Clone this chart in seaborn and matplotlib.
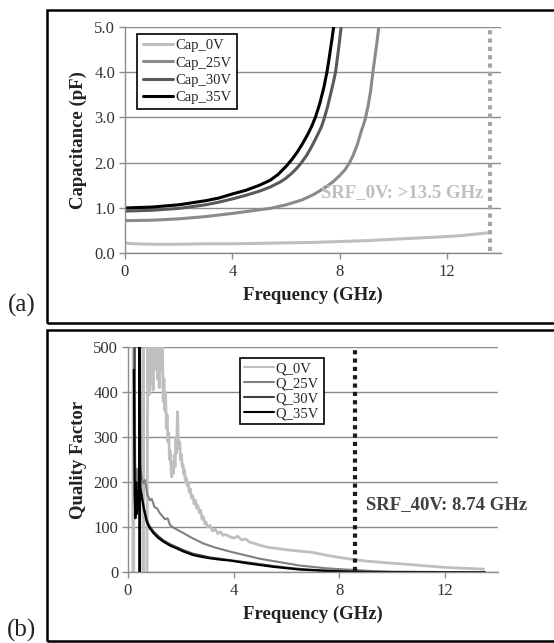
import pandas as pd
import seaborn as sns
from matplotlib import pyplot as plt
from matplotlib.patches import Rectangle

# ---------------- (a) capacitance vs frequency
f_cap_0v = [0, 0.3, 1, 2, 3, 4, 5, 6, 7, 8, 9, 10, 11, 12, 12.5, 13, 13.5]
c_cap_0v = [0.23, 0.21, 0.20, 0.20, 0.21, 0.21, 0.22, 0.23, 0.24, 0.26, 0.28, 0.31,
            0.34, 0.37, 0.39, 0.42, 0.45]

f_cap_25v = [0, 1, 2, 3, 4, 4.5, 5, 5.4, 6, 6.6, 7.0, 7.4, 7.75, 8.0, 8.2, 8.36, 8.5,
             8.65, 8.8, 8.9, 8.96, 9.05, 9.15, 9.23, 9.3, 9.38, 9.45]
c_cap_25v = [0.72, 0.73, 0.76, 0.81, 0.88, 0.92, 0.96, 0.99, 1.07, 1.18, 1.29, 1.43,
             1.58, 1.72, 1.85, 2.0, 2.17, 2.4, 2.7, 2.87, 3.0, 3.25, 3.6, 4.0, 4.3,
             4.65, 5.0]

f_cap_30v = [0, 1, 2, 3, 3.5, 4, 4.5, 5, 5.4, 5.8, 6.0, 6.2, 6.4, 6.57, 6.75, 6.9,
             7.05, 7.2, 7.32, 7.43, 7.55, 7.65, 7.75, 7.84, 7.95, 8.05]
c_cap_30v = [0.93, 0.95, 0.99, 1.07, 1.13, 1.2, 1.28, 1.37, 1.46, 1.58, 1.66, 1.76,
             1.88, 2.0, 2.15, 2.3, 2.47, 2.65, 2.8, 3.0, 3.25, 3.5, 3.75, 4.0, 4.5, 5.0]

f_cap_35v = [0, 1, 2, 3, 3.5, 4, 4.5, 5, 5.4, 5.7, 6.0, 6.2, 6.4, 6.6, 6.8, 6.95,
             7.1, 7.25, 7.4, 7.52, 7.6, 7.7, 7.77]
c_cap_35v = [1.00, 1.02, 1.07, 1.16, 1.22, 1.31, 1.39, 1.50, 1.61, 1.74, 1.92, 2.06,
             2.22, 2.41, 2.62, 2.8, 3.02, 3.3, 3.65, 4.0, 4.3, 4.7, 5.0]

cap_names = ["Cap_0V", "Cap_25V", "Cap_30V", "Cap_35V"]
cap_colors = ["#bfbfbf", "#8a8a8a", "#595959", "#000000"]

# ---------------- (b) quality factor vs frequency
f_q_0v = [0.18, 0.2, 0.22, 0.56, 0.58, 0.6, 0.72, 0.75, 0.77, 0.79, 0.81, 0.83, 0.85,
          0.87, 0.89, 0.91, 0.93, 0.95, 0.97, 1.0, 1.03, 1.06, 1.09, 1.12, 1.15, 1.18,
          1.21, 1.24, 1.27, 1.3, 1.33, 1.36, 1.39, 1.42, 1.45, 1.48, 1.51, 1.54, 1.57,
          1.6, 1.63, 1.66, 1.69, 1.72, 1.75, 1.78, 1.81, 1.84, 1.87, 1.9, 1.93, 1.96,
          1.99, 2.02, 2.05, 2.08, 2.11, 2.14, 2.17, 2.2, 2.24, 2.28, 2.32, 2.36, 2.4,
          2.45, 2.5, 2.55, 2.6, 2.65, 2.7, 2.75, 2.8, 2.85, 2.9, 2.95, 3.0, 3.1, 3.2,
          3.3, 3.4, 3.5, 3.6, 3.7, 3.86, 4.0, 4.15, 4.3, 4.45, 4.6, 4.8, 5.0, 5.25,
          5.5, 5.75, 6.0, 6.5, 7.0, 7.5, 8.0, 8.6, 9.0, 9.8, 10.5, 11.1, 12.0, 12.7,
          13.46]
q_q_0v = [-20, 600, -20, -20, 600, -20, -20, 600, 410, 520, 395, 470, 540, 420, 600,
          440, 510, 405, 560, 450, 600, 465, 530, 430, 600, 410, 500, 450, 600, 520,
          380, 430, 360, 400, 320, 350, 290, 310, 250, 270, 225, 212, 245, 220, 260,
          235, 300, 265, 357, 300, 275, 290, 250, 262, 235, 240, 218, 228, 200, 210,
          192, 200, 178, 185, 165, 170, 152, 160, 142, 148, 132, 138, 118, 124, 108,
          112, 101, 104, 92, 96, 86, 90, 82, 84, 79, 76, 80, 72, 74, 67, 64, 60, 56,
          54, 52, 50, 47, 44, 38, 33, 28, 25, 21, 18, 15, 11, 9, 7]

f_q_25v = [0.25, 0.27, 0.3, 0.33, 0.38, 0.45, 0.5, 0.58, 0.65, 0.72, 0.83, 0.9, 1.0,
           1.1, 1.21, 1.3, 1.4, 1.5, 1.59, 1.7, 1.85, 2.1, 2.4, 2.85, 3.3, 3.86, 4.5,
           5, 5.5, 6, 6.5, 7, 7.5, 8, 8.6, 9.3, 10, 11, 12, 13, 13.5]
q_q_25v = [600, 250, 180, 230, 200, 240, 215, 198, 205, 175, 160, 163, 145, 142, 131,
           125, 118, 120, 105, 100, 95, 87, 77, 64, 55, 46, 37, 30, 25, 20, 15, 12, 9,
           7, 5, 2.5, 1.5, 1, 0.5, 0.2, 0]

f_q_30v = [0.24, 0.26, 0.28, 0.32, 0.36, 0.40, 0.46, 0.52, 0.6, 0.71, 0.8, 0.96, 1.15,
           1.34, 1.6, 1.84, 2.1, 2.47, 2.8, 3.1, 3.5, 3.86, 4.5, 5, 5.5, 6, 6.5, 7,
           7.5, 8, 8.6, 9, 10, 11, 12, 13, 13.5]
q_q_30v = [600, 250, 160, 190, 150, 200, 180, 172, 145, 117, 104, 91, 80, 71, 62, 56,
           49, 41, 37, 33, 30, 27, 22, 18, 14, 10.5, 7.5, 5.5, 4, 2.8, 1.6, 1.1, 0.5,
           0.3, 0.1, 0, 0]

f_q_35v = [0.22, 0.25, 0.28, 0.31, 0.34, 0.37, 0.40, 0.42, 0.43, 0.44, 0.45, 0.47,
           0.52, 0.6, 0.71, 0.8, 0.96, 1.15, 1.34, 1.6, 1.84, 2.1, 2.47, 2.8, 3.1, 3.5,
           3.86, 4.5, 5, 5.5, 6, 6.5, 7, 7.5, 8, 8.6, 9, 10, 11, 12, 13, 13.5]
q_q_35v = [450, 170, 120, 200, 130, 180, 160, 190, 600, -30, 600, 190, 168, 140, 112,
           100, 87, 76, 68, 59, 53, 46, 38, 34, 31, 28, 26, 20, 16, 12, 9, 6, 4.5, 3,
           2, 1, 0.8, 0.4, 0.2, 0.1, 0, 0]

q_names = ["Q_0V", "Q_25V", "Q_30V", "Q_35V"]
q_colors = ["#bfbfbf", "#808080", "#404040", "#000000"]

srf_0v = 13.6     # dotted marker, panel (a)
srf_40v = 8.6     # dotted marker, panel (b)

################################################################################
df_cap = pd.concat([
    pd.DataFrame({"freq": f, "val": v, "series": n})
    for f, v, n in zip([f_cap_0v, f_cap_25v, f_cap_30v, f_cap_35v],
                       [c_cap_0v, c_cap_25v, c_cap_30v, c_cap_35v], cap_names)])
df_q = pd.concat([
    pd.DataFrame({"freq": f, "val": v, "series": n})
    for f, v, n in zip([f_q_0v, f_q_25v, f_q_30v, f_q_35v],
                       [q_q_0v, q_q_25v, q_q_30v, q_q_35v], q_names)])

sns.set_style("ticks")
plt.rcParams['font.family'] = ['Liberation Serif', 'DejaVu Serif']

W, H = 554, 643
fig = plt.figure(figsize=(W / 100, H / 100), dpi=100)

def px_axes(left, right, top, bottom):
    return fig.add_axes([left / W, 1 - bottom / H, (right - left) / W, (bottom - top) / H])

ax1 = px_axes(125, 501, 26.7, 253.3)
ax2 = px_axes(128, 498, 347.3, 572.3)

sns.lineplot(data=df_cap, x="freq", y="val", hue="series", palette=cap_colors,
             hue_order=cap_names, estimator=None, sort=False, linewidth=2.2, ax=ax1)
sns.lineplot(data=df_q, x="freq", y="val", hue="series", palette=q_colors,
             hue_order=q_names, estimator=None, sort=False, linewidth=1.5, ax=ax2)
# the 0V trace is drawn a little heavier in the reference
ax2.get_lines()[0].set_linewidth(2.0)

def style_axis(ax, ylim, yticks, fmt):
    ax.set_xlim(0, 14)
    ax.set_ylim(*ylim)
    ax.set_xticks([0, 4, 8, 12])
    ax.set_yticks(yticks)
    ax.set_yticklabels([fmt.format(t) for t in yticks])
    ax.yaxis.grid(True, color="#8c8c8c", lw=1)
    ax.set_axisbelow(True)
    for s in ["top", "right"]:
        ax.spines[s].set_visible(False)
    for s in ["left", "bottom"]:
        ax.spines[s].set_color("#8c8c8c")
        ax.spines[s].set_linewidth(1)
    ax.tick_params(axis="both", colors="#8c8c8c", labelcolor="#333333",
                   length=4, width=1, labelsize=12)
    ax.tick_params(axis="x", pad=4)
    ax.tick_params(axis="y", pad=3)

style_axis(ax1, (0, 5), [0, 1, 2, 3, 4, 5], "{:.1f}")
style_axis(ax2, (0, 500), [0, 100, 200, 300, 400, 500], "{:d}")

lab = dict(fontsize=13.5, fontweight="bold", color="#222222")
ax1.set_xlabel("Frequency (GHz)", **lab)
ax1.set_ylabel("Capacitance (pF)", **lab)
ax2.set_xlabel("Frequency (GHz)", **lab)
ax2.set_ylabel("Quality Factor", **lab)
ax1.xaxis.set_label_coords(0.5, -0.148)
ax1.yaxis.set_label_coords(-0.1, 0.5)
ax2.xaxis.set_label_coords(0.5, -0.15)
ax2.yaxis.set_label_coords(-0.112, 0.5)

# srf markers
ax1.vlines(srf_0v, 0.05, 5, colors="#a6a6a6", lw=3, linestyles=(0, (1, 1)))
ax1.text(13.33, 1.33, "SRF_0V: >13.5 GHz", ha="right", va="center",
         fontsize=13.5, fontweight="bold", color="#bfbfbf")
ax2.vlines(srf_40v, 3, 500, colors="#1a1a1a", lw=3, linestyles=(0, (1, 1)))
ax2.text(9.0, 150, "SRF_40V: 8.74 GHz", ha="left", va="center",
         fontsize=13.5, fontweight="bold", color="#404040")

# legends
h1, l1 = ax1.get_legend_handles_labels()
leg1 = ax1.legend(h1, l1, loc="upper left", bbox_to_anchor=(0.033, 0.968),
                  borderaxespad=0, fontsize=10.5, frameon=True, fancybox=False,
                  edgecolor="black", framealpha=1, handlelength=2.1,
                  handletextpad=0.15, labelspacing=0.28, borderpad=0.35)
leg1.get_frame().set_linewidth(1.2)
h2, l2 = ax2.get_legend_handles_labels()
leg2 = ax2.legend(h2, l2, loc="upper left", bbox_to_anchor=(0.303, 0.954),
                  borderaxespad=0, fontsize=10.5, frameon=True, fancybox=False,
                  edgecolor="black", framealpha=1, handlelength=2.0,
                  handletextpad=0.15, labelspacing=0.12, borderpad=0.3)
leg2.get_frame().set_linewidth(1.2)

# panel frames and tags
for top, bottom in [(10, 323), (330, 641)]:
    fig.add_artist(Rectangle((47 / W, 1 - bottom / H), 600 / W, (bottom - top) / H,
                             transform=fig.transFigure, fill=False, lw=1.8,
                             ec="black", clip_on=False))
fig.text(22 / W, 1 - 305 / H, "(a)", ha="center", va="center", fontsize=18, color="#222222")
fig.text(22 / W, 1 - 630 / H, "(b)", ha="center", va="center", fontsize=18, color="#222222")

plt.savefig("out.png", dpi=100)
plt.close()
